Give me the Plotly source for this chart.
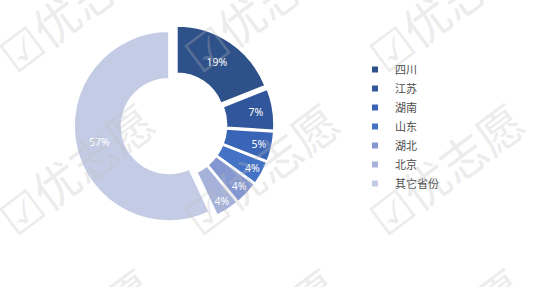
import plotly.graph_objects as go

# ---- data ----
provinces = ["四川", "江苏", "湖南", "山东", "湖北", "北京", "其它省份"]
shares = [19, 7, 5, 4, 4, 4, 57]
colors = ["#2F5189", "#31569C", "#3A64B5", "#4472C4", "#8497D0", "#A6B2DA", "#C4CCE5"]

W, H = 533, 287

fig = go.Figure()

fig.add_trace(go.Pie(
    labels=provinces,
    values=shares,
    sort=False,
    direction="clockwise",
    rotation=0,
    hole=0.5,
    pull=[0.055] * len(shares),
    marker=dict(colors=colors, line=dict(color="white", width=1.5)),
    textinfo="percent",
    texttemplate="%{percent:.0%}",
    textposition="inside",
    insidetextorientation="horizontal",
    textfont=dict(family="Noto Sans", size=10.5, color="white"),
    showlegend=False,
    domain=dict(x=[74.0 / W, 274.0 / W], y=[(H - 225.0) / H, (H - 25.0) / H]),
))

# legend entries (square swatches)
for i, (name, c) in enumerate(zip(provinces, colors)):
    fig.add_trace(go.Scatter(
        x=[None], y=[None], mode="markers", name=name,
        marker=dict(symbol="square", size=6, color=c),
        legendgroup=f"g{i}", showlegend=True,
    ))

# watermark tiles
wm_x = [75, 260, 445]
wm_y = [5, 168, 333]
annotations = []
for yy in wm_y:
    for xx in wm_x:
        annotations.append(dict(
            x=xx / W, y=(H - yy) / H, xref="paper", yref="paper",
            text="☑优志愿", showarrow=False, textangle=-37,
            font=dict(family="Noto Sans CJK SC", size=46, color="rgba(190,190,190,0.3)"),
            xanchor="center", yanchor="middle",
        ))

fig.update_layout(
    width=W, height=H,
    margin=dict(l=0, r=0, t=0, b=0),
    paper_bgcolor="white", plot_bgcolor="white",
    xaxis=dict(visible=False), yaxis=dict(visible=False),
    uniformtext=dict(minsize=10.5, mode="show"),
    legend=dict(
        x=355.0 / W, y=(H - 55.0) / H, xanchor="left", yanchor="top",
        font=dict(family="Noto Sans CJK SC", size=11, color="#4D4D4D"),
        tracegroupgap=0, bgcolor="rgba(0,0,0,0)",
    ),
    annotations=annotations,
)

fig.write_html("out.html")
